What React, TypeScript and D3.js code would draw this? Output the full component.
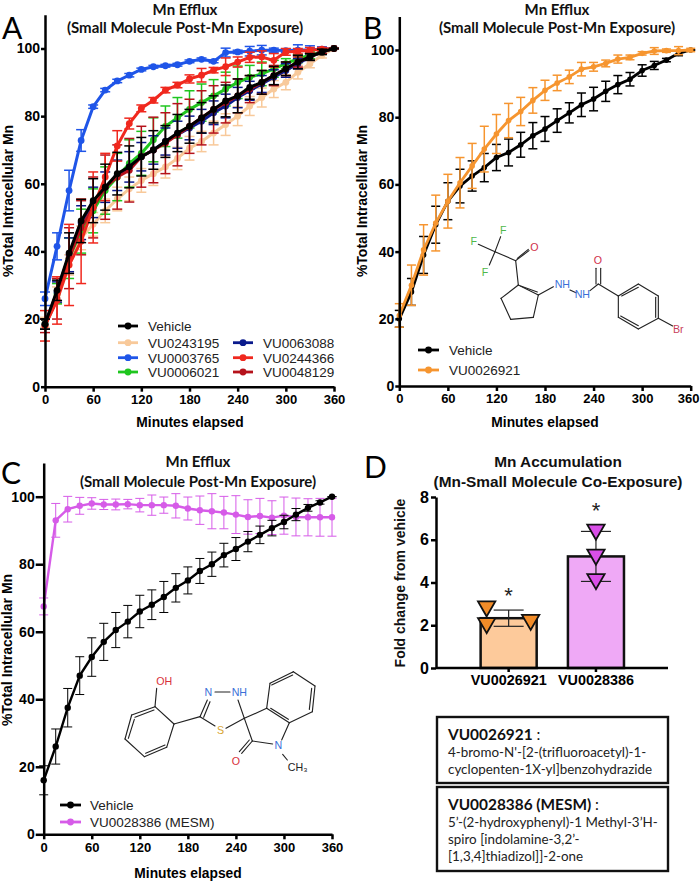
import React, { useEffect, useRef } from 'react';
import * as d3 from 'd3';

const minutes = [0, 15, 30, 45, 60, 75, 90, 105, 120, 135, 150, 165, 180, 195, 210, 225, 240, 255, 270, 285, 300, 315, 330, 345, 360];
const percentTicks = [0, 20, 40, 60, 80, 100];
const minuteTicks = [0, 60, 120, 180, 240, 300, 360];

// panel A
const vehicleA = [18.5, 28.5, 39.5, 49, 55, 59, 63, 65, 68, 70, 72.5, 75, 77, 79.5, 82, 84.5, 86, 88.5, 90, 92, 94, 96, 97.5, 99, 100];
const vehicleAErr = [1.5, 3, 6, 6.4, 6.5, 6.8, 6.3, 6.2, 5.7, 5.7, 4.7, 5.5, 5, 4.5, 4, 4.7, 5, 3.5, 3.5, 2.7, 2, 2, 1, 0.8, 0];
const vu0243195 = [19, 27, 36, 44, 48, 52, 55.5, 58.5, 61, 63, 65, 67.5, 70.5, 72.5, 75, 77.5, 80, 83, 85.5, 88, 90, 93, 95.5, 98, 100];
const vu0243195Err = [1.5, 2.5, 3, 3.5, 3.5, 3.5, 3.5, 3.5, 3.5, 3.5, 3.3, 3.3, 3.5, 3, 3.5, 3.2, 2.8, 2.8, 2.8, 2.5, 2.2, 2, 1.2, 0.8, 0];
const vu0003765 = [26, 41.5, 58, 72.8, 82.8, 87.7, 90.4, 92.1, 93.8, 94.6, 94.9, 95.2, 96.2, 96.8, 96.2, 98.8, 99, 99.2, 99.5, 99.5, 99.4, 99.5, 99.6, 99.8, 100];
const vu0003765Err = [2, 4, 6, 3.2, 0.5, 0.5, 0.5, 0.5, 0.4, 0.4, 0.4, 0.4, 0.4, 0.4, 0.4, 1.3, 0.5, 1.4, 1.4, 0.6, 0.5, 1.6, 1.2, 0.7, 0];
const vu0006021 = [18.5, 27.5, 38, 46, 52, 58, 62, 66, 69, 73, 77, 79.5, 82, 84, 86, 88, 90, 91.5, 92.5, 94, 95.5, 97, 98, 99, 100];
const vu0006021Err = [1.5, 3, 6, 6.5, 6.5, 7, 7, 7, 6.5, 6.5, 6, 6, 5.5, 5.5, 4.8, 5, 4.8, 3.5, 3.5, 2.5, 1.5, 1.2, 1, 0.6, 0];
const vu0063088 = [18.5, 28, 39, 48.5, 54.5, 59, 62.5, 65, 68, 70, 72.5, 74.5, 76.5, 78.5, 81, 83, 85.5, 87.5, 89.5, 91.5, 93.5, 95.5, 97.5, 99, 100];
const vu0063088Err = [1.5, 3, 5, 5, 4.5, 4.5, 4.5, 4.5, 4.2, 4.2, 4, 4, 3.5, 3.5, 3.5, 3.5, 3, 2.8, 2.5, 2.2, 2, 1.5, 1, 0.6, 0];
const vu0244366 = [18, 25.5, 36, 43, 53, 62, 71.2, 77.8, 82.3, 84.7, 87.7, 89.2, 91, 92.1, 93.6, 94.6, 96, 97.4, 97.5, 96.5, 99, 99.2, 99.5, 99.8, 100];
const vu0244366Err = [4.5, 7, 12, 12.5, 10.5, 7, 4.5, 1.6, 1, 0.8, 0.8, 0.8, 1.2, 2, 0.8, 2.6, 1.5, 1.5, 1.8, 2, 1, 0.8, 0.8, 0.5, 0];
const vu0048129 = [18, 26, 38, 47, 53, 59, 62, 64, 68, 70, 72, 74.5, 77, 79.5, 82, 84, 86, 88, 90, 92, 94, 96, 97.5, 99, 100];
const vu0048129Err = [2, 6, 9, 8, 9, 9.5, 9.5, 9.4, 9, 9.7, 9, 9.2, 8, 8, 7, 6, 5, 4, 3.5, 3, 2, 1.5, 1, 0.5, 0];

// panel B
const vehicleB = [20, 28, 39, 48, 55, 59.5, 62.5, 65, 68, 69.5, 71.8, 74.5, 76.5, 79, 81.3, 83.7, 85.4, 87.7, 89.7, 91.3, 93.9, 95.4, 97, 99, 100];
const vehicleBErr = [2.5, 4, 5.5, 5.5, 5.5, 5, 4.5, 4.2, 3.9, 4, 3.7, 3.9, 3.7, 3.5, 3, 3.5, 3.5, 3, 2.7, 2, 1.7, 1.2, 0.5, 0.7, 0];
const vu0026921 = [21, 30, 40.5, 48.5, 55, 60.5, 65.5, 70.5, 75, 79, 81.7, 85, 88, 90.2, 92, 94.3, 95, 96, 97.3, 97.8, 99, 99.7, 99.8, 99.8, 100];
const vu0026921Err = [3.5, 6, 7.5, 8.3, 8, 7.5, 6.7, 6.8, 5.8, 5.1, 4.2, 3.8, 3, 2.3, 2, 2, 1.3, 1, 1.2, 0.7, 0.5, 1, 0.5, 1.2, 0.5];

// panel C
const vehicleC = [16, 26, 37.5, 47, 52.5, 57, 60.5, 63, 66, 68, 70.3, 73, 75.2, 78, 80, 82.7, 84.5, 86.7, 88.7, 90.7, 92.5, 94.7, 96.7, 98.3, 100];
const vehicleCErr = [4.3, 5.2, 5.7, 5.6, 5.7, 5.5, 5.2, 4.8, 4.8, 4.4, 4.6, 4.2, 4, 3.7, 3.6, 3.5, 3.4, 3, 2.6, 2.3, 2, 1.8, 1, 0.5, 0];
const vu0028386 = [67.5, 93, 96.3, 97.3, 98, 97.7, 97.7, 97.8, 97.5, 97.5, 97.5, 97.3, 96.5, 96, 95.7, 95.3, 94.7, 94, 94.3, 93.8, 94.4, 94, 93.9, 93.9, 93.9];
const vu0028386Err = [2.5, 5, 3.8, 2.5, 1.7, 1.5, 1.6, 1.4, 2, 3, 2.4, 3.6, 3.4, 4.2, 5.2, 4.8, 5.6, 5.1, 5.2, 5, 5.5, 5.6, 5.5, 5.6, 5.6];

// panel D
const accumulationCompounds = ['VU0026921', 'VU0028386'];
const accumulationMeans = [2.33, 5.22];
const accumulationErr = [0.38, 1.17];
const accumulationPoints = [[2.88, 2.1, 2.25], [6.47, 5.3, 4.16]];
const accumulationOffsets = [[-22, -22, 22], [0, 0, 0]];

const BLACK = '#000000';
const PEACH = '#f8c99a';
const BLUE = '#1f55e8';
const GREEN = '#1fc61f';
const NAVY = '#0a1a8c';
const RED = '#f0281e';
const DARK_RED = '#b5121b';
const ORANGE = '#f6952f';
const MAGENTA = '#d65be8';

const ARIAL = '"Liberation Sans", Arial, sans-serif';
const CALIBRI = 'Lato, sans-serif';

type Series = { name: string; values: number[]; err: number[]; color: string };
type Panel = {
  left: number; right: number; top100: number; bottom: number;
  series: Series[];
  lineWidth: number; radius: number; errWidth: number; capHalf: number; tickLen: number;
};

const drawEfflux = (svg: any, p: Panel) => {
  const x = d3.scaleLinear().domain([0, 360]).range([p.left, p.right]);
  const unit = (p.bottom - p.top100) / 100;
  const y = d3.scaleLinear().domain([0, 110]).range([p.bottom, p.bottom - 110 * unit]);
  const line = d3.line<number>().x((_, i) => x(minutes[i])).y(d => y(d));

  p.series.forEach(s => {
    const g = svg.append('g');
    const bars = g.selectAll('g.err').data(s.values.map((v, i) => ({ t: minutes[i], v, e: s.err[i] })))
      .join('g').attr('stroke', s.color).attr('stroke-width', p.errWidth).attr('fill', 'none');
    bars.append('line').attr('x1', d => x(d.t)).attr('x2', d => x(d.t)).attr('y1', d => y(d.v - d.e)).attr('y2', d => y(d.v + d.e));
    bars.append('line').attr('x1', d => x(d.t) - p.capHalf).attr('x2', d => x(d.t) + p.capHalf).attr('y1', d => y(d.v + d.e)).attr('y2', d => y(d.v + d.e));
    bars.append('line').attr('x1', d => x(d.t) - p.capHalf).attr('x2', d => x(d.t) + p.capHalf).attr('y1', d => y(d.v - d.e)).attr('y2', d => y(d.v - d.e));
    g.append('path').attr('d', line(s.values)).attr('fill', 'none').attr('stroke', s.color).attr('stroke-width', p.lineWidth);
    g.selectAll('circle').data(s.values).join('circle')
      .attr('cx', (_, i) => x(minutes[i])).attr('cy', d => y(d)).attr('r', p.radius).attr('fill', s.color);
  });

  const yAxis = svg.append('g').attr('transform', `translate(${p.left},0)`)
    .call(d3.axisLeft(y).tickValues(percentTicks).tickSize(p.tickLen).tickSizeOuter(0).tickPadding(1));
  const xAxis = svg.append('g').attr('transform', `translate(0,${p.bottom})`)
    .call(d3.axisBottom(x).tickValues(minuteTicks).tickSize(5).tickSizeOuter(0).tickPadding(3));
  styleAxis(yAxis, 14);
  styleAxis(xAxis, 13);
  return xAxis;
};

const styleAxis = (axis: any, size: number) => {
  axis.selectAll('path').attr('stroke', '#000').attr('stroke-width', 2.5);
  axis.selectAll('line').attr('stroke', '#000').attr('stroke-width', 2.5);
  axis.selectAll('text').attr('fill', '#000').attr('font-family', ARIAL).attr('font-weight', 'bold').attr('font-size', size);
};

const addText = (svg: any, str: string, tx: number, ty: number, opts: any = {}) => {
  const t = svg.append('text').attr('x', tx).attr('y', ty)
    .attr('font-family', opts.family || ARIAL).attr('font-size', opts.size || 12)
    .attr('font-weight', opts.weight || 'normal').attr('fill', opts.fill || '#000')
    .attr('text-anchor', opts.anchor || 'start').text(str);
  if (opts.rotate) t.attr('transform', `rotate(${opts.rotate} ${tx} ${ty})`);
  return t;
};

const legendRow = (svg: any, s: { name: string; color: string }, x1: number, x2: number, ty: number, tx: number, size: number) => {
  svg.append('line').attr('x1', x1).attr('x2', x2).attr('y1', ty).attr('y2', ty).attr('stroke', s.color).attr('stroke-width', 2.8);
  svg.append('circle').attr('cx', (x1 + x2) / 2).attr('cy', ty).attr('r', 3.4).attr('fill', s.color);
  addText(svg, s.name, tx, ty + size * 0.36, { size, fill: '#222' });
};

// molecule drawings: points are in the zoomed sketch units, scaled by 1/3 at draw time
type Bond = number[];
const cf3Bonds: Bond[] = [[385, 103, 435, 125], [452, 80, 435, 125], [418, 165, 435, 125], [435, 125, 497, 152], [497, 152, 505, 225], [505, 225, 565, 255], [565, 255, 550, 322], [550, 322, 482, 328], [482, 328, 453, 265], [453, 265, 505, 225], [565, 255, 610, 230], [660, 240, 678, 248], [720, 242, 745, 222], [745, 222, 805, 258], [805, 258, 865, 222], [865, 222, 925, 258], [925, 258, 925, 325], [925, 325, 865, 357], [865, 357, 805, 322], [805, 322, 805, 258], [925, 325, 968, 348], [497, 152, 537, 122]];
const cf3Inner: Bond[] = [[502, 145, 535, 118], [738, 222, 738, 175], [752, 222, 752, 175], [512, 228, 562, 246], [815, 258, 865, 232], [917, 262, 917, 322], [865, 347, 812, 318]];
const cf3Labels = [['F', 371, 95, '#4fb84a'], ['F', 460, 62, '#4fb84a'], ['F', 405, 186, '#4fb84a'], ['O', 553, 112, '#d0304a'], ['NH', 637, 222, '#3a6fd8'], ['NH', 697, 254, '#3a6fd8'], ['O', 744, 152, '#d0304a'], ['Br', 985, 358, '#c8405a']];

const mesmBonds: Bond[] = [[470, 85, 465, 140], [465, 140, 522, 192], [522, 192, 500, 262], [500, 262, 433, 290], [433, 290, 375, 237], [375, 237, 395, 165], [395, 165, 465, 140], [522, 192, 600, 170], [600, 170, 622, 120], [645, 96, 690, 96], [714, 120, 733, 175], [733, 175, 678, 205], [645, 198, 600, 170], [733, 175, 800, 145], [800, 145, 810, 70], [810, 70, 880, 35], [880, 35, 945, 78], [945, 78, 937, 155], [937, 155, 868, 188], [868, 188, 800, 145], [868, 188, 845, 240], [818, 252, 757, 243], [733, 175, 757, 243], [848, 283, 862, 300], [757, 243, 725, 280]];
const mesmInner: Bond[] = [[611, 172, 630, 125], [405, 172, 462, 150], [385, 235, 403, 178], [437, 280, 495, 255], [815, 75, 878, 45], [935, 85, 928, 148], [748, 240, 718, 275], [812, 145, 865, 178]];
const mesmLabels = [['OH', 493, 63, '#d8303a'], ['N', 625, 96, '#3a6fd8'], ['NH', 718, 96, '#3a6fd8'], ['S', 662, 212, '#d8a530'], ['N', 835, 256, '#3a6fd8'], ['O', 708, 305, '#d8303a'], ['CH₃', 893, 322, '#222']];

const drawMolecule = (svg: any, ox: number, oy: number, bonds: Bond[], inner: Bond[], labels: any[]) => {
  const g = svg.append('g').attr('transform', `translate(${ox},${oy}) scale(${1 / 3})`);
  g.selectAll('line').data([...bonds, ...inner]).join('line')
    .attr('x1', d => d[0]).attr('y1', d => d[1]).attr('x2', d => d[2]).attr('y2', d => d[3])
    .attr('stroke', '#222').attr('stroke-width', 3.4).attr('stroke-linecap', 'round');
  g.selectAll('text').data(labels).join('text')
    .attr('x', d => d[1]).attr('y', d => d[2] + 11).attr('text-anchor', 'middle')
    .attr('font-family', ARIAL).attr('font-size', 32).attr('fill', d => d[3]).text(d => d[0]);
};

const App: React.FC = () => {
  const svgRef = useRef<SVGSVGElement | null>(null);

  useEffect(() => {
    const svg = d3.select(svgRef.current);
    svg.selectAll('*').remove();

    const seriesA: Series[] = [
      { name: 'VU0243195', values: vu0243195, err: vu0243195Err, color: PEACH },
      { name: 'VU0003765', values: vu0003765, err: vu0003765Err, color: BLUE },
      { name: 'VU0006021', values: vu0006021, err: vu0006021Err, color: GREEN },
      { name: 'VU0063088', values: vu0063088, err: vu0063088Err, color: NAVY },
      { name: 'VU0048129', values: vu0048129, err: vu0048129Err, color: DARK_RED },
      { name: 'VU0244366', values: vu0244366, err: vu0244366Err, color: RED },
      { name: 'Vehicle', values: vehicleA, err: vehicleAErr, color: BLACK },
    ];

    drawEfflux(svg, { left: 45, right: 334, top100: 48.5, bottom: 386.7, series: seriesA, lineWidth: 3, radius: 3.4, errWidth: 1.5, capHalf: 5, tickLen: 4 });
    const xAxisB = drawEfflux(svg, {
      left: 399.3, right: 690.7, top100: 50, bottom: 386,
      series: [
        { name: 'Vehicle', values: vehicleB, err: vehicleBErr, color: BLACK },
        { name: 'VU0026921', values: vu0026921, err: vu0026921Err, color: ORANGE },
      ],
      lineWidth: 2.8, radius: 2.8, errWidth: 1.5, capHalf: 4.5, tickLen: 4,
    });
    // last label would run off the page edge
    xAxisB.selectAll('.tick').filter((d: any) => d === 360).select('text').attr('dx', -2.5);
    drawEfflux(svg, {
      left: 43.7, right: 332, top100: 496.7, bottom: 834.3,
      series: [
        { name: 'VU0028386 (MESM)', values: vu0028386, err: vu0028386Err, color: MAGENTA },
        { name: 'Vehicle', values: vehicleC, err: vehicleCErr, color: BLACK },
      ],
      lineWidth: 2.4, radius: 3.2, errWidth: 1, capHalf: 4.5, tickLen: 8,
    });

    // titles and axis titles
    const titleOpts = { family: CALIBRI, weight: 700, size: 15, anchor: 'middle', fill: '#111' };
    [[185, 14.5, 32.5], [557, 14.5, 32.5], [198, 467, 487]].forEach(([cx, y1, y2]) => {
      addText(svg, 'Mn Efflux', cx, y1, titleOpts);
      addText(svg, '(Small Molecule Post-Mn Exposure)', cx, y2, titleOpts);
    });
    const yTitle = { weight: 'bold', size: 14, anchor: 'middle', rotate: -90 };
    addText(svg, '%Total Intracellular Mn', 13, 201, yTitle);
    addText(svg, '%Total Intracellular Mn', 367, 201, yTitle);
    addText(svg, '%Total Intracellular Mn', 12, 650, yTitle);
    const xTitle = { weight: 'bold', size: 13.8, anchor: 'middle' };
    addText(svg, 'Minutes elapsed', 190, 427, xTitle);
    addText(svg, 'Minutes elapsed', 545, 427, xTitle);
    addText(svg, 'Minutes elapsed', 188, 878, xTitle);

    // panel letters
    const letter = { family: CALIBRI, size: 30 };
    addText(svg, 'A', 2, 39, letter);
    addText(svg, 'B', 363, 39, letter);
    addText(svg, 'C', 1, 484, letter);
    addText(svg, 'D', 364, 478, letter);

    // legends
    legendRow(svg, { name: 'Vehicle', color: BLACK }, 118, 138, 326, 148, 13.5);
    legendRow(svg, { name: 'VU0243195', color: PEACH }, 118, 138, 342.7, 148, 13.5);
    legendRow(svg, { name: 'VU0003765', color: BLUE }, 118, 138, 357.7, 148, 13.5);
    legendRow(svg, { name: 'VU0006021', color: GREEN }, 118, 138, 372, 148, 13.5);
    legendRow(svg, { name: 'VU0063088', color: NAVY }, 233, 253, 342.7, 263, 13.5);
    legendRow(svg, { name: 'VU0244366', color: RED }, 233, 253, 357.7, 263, 13.5);
    legendRow(svg, { name: 'VU0048129', color: DARK_RED }, 233, 253, 372, 263, 13.5);
    legendRow(svg, { name: 'Vehicle', color: BLACK }, 418, 439, 350, 449, 13.5);
    legendRow(svg, { name: 'VU0026921', color: ORANGE }, 418, 439, 370, 449, 13.5);
    legendRow(svg, { name: 'Vehicle', color: BLACK }, 60, 81, 805, 90, 13.5);
    legendRow(svg, { name: 'VU0028386 (MESM)', color: MAGENTA }, 60, 81, 822, 90, 13.5);

    // structures
    drawMolecule(svg, 350, 210, cf3Bonds, cf3Inner, cf3Labels);
    drawMolecule(svg, 0, 660, mesmBonds, mesmInner, mesmLabels);

    // panel D
    const xBand = d3.scaleBand<string>().domain(accumulationCompounds).range([465, 639.6]).paddingInner(0.358).paddingOuter(0.179);
    const yFold = d3.scaleLinear().domain([0, 8]).range([668, 497]);
    const barFills = ['#fdca9b', '#efa9f6'];
    const triFills = ['#f28c28', '#d94fe8'];
    const triangle = d3.symbol().type(d3.symbolTriangle).size(130);

    svg.append('g').selectAll('rect').data(accumulationCompounds).join('rect')
      .attr('x', d => xBand(d) || 0).attr('y', (_, i) => yFold(accumulationMeans[i]))
      .attr('width', xBand.bandwidth()).attr('height', (_, i) => 668 - yFold(accumulationMeans[i]))
      .attr('fill', (_, i) => barFills[i]).attr('stroke', '#111').attr('stroke-width', 2.5);

    accumulationCompounds.forEach((c, i) => {
      const cx = (xBand(c) || 0) + xBand.bandwidth() / 2;
      const hi = yFold(accumulationMeans[i] + accumulationErr[i]);
      const lo = yFold(accumulationMeans[i] - accumulationErr[i]);
      const eg = svg.append('g').attr('stroke', '#222').attr('stroke-width', 1.2);
      eg.append('line').attr('x1', cx).attr('x2', cx).attr('y1', hi).attr('y2', lo);
      eg.append('line').attr('x1', cx - 15).attr('x2', cx + 15).attr('y1', hi).attr('y2', hi);
      eg.append('line').attr('x1', cx - 15).attr('x2', cx + 15).attr('y1', lo).attr('y2', lo);
      svg.append('g').selectAll('path').data(accumulationPoints[i]).join('path')
        .attr('d', triangle as any)
        .attr('transform', (d, j) => `translate(${cx + accumulationOffsets[i][j]},${yFold(d)}) rotate(180)`)
        .attr('fill', triFills[i]).attr('stroke', '#111').attr('stroke-width', 1.8);
      addText(svg, '*', cx, i === 0 ? 603 : 518, { size: 22, anchor: 'middle', fill: '#222' });
    });

    const yFoldAxis = svg.append('g').attr('transform', 'translate(436,0)')
      .call(d3.axisLeft(yFold).tickValues([0, 2, 4, 6, 8]).tickSize(5).tickSizeOuter(0).tickPadding(2));
    styleAxis(yFoldAxis, 16);
    svg.append('line').attr('x1', 436).attr('x2', 668).attr('y1', 668).attr('y2', 668).attr('stroke', '#000').attr('stroke-width', 2.5);
    const xFoldAxis = svg.append('g').attr('transform', 'translate(0,668)')
      .call(d3.axisBottom(xBand).tickSize(4).tickSizeOuter(0).tickPadding(3));
    styleAxis(xFoldAxis, 14.4);
    xFoldAxis.select('path').remove();

    const titleD = { weight: 'bold', size: 15.4, anchor: 'middle', fill: '#111' };
    addText(svg, 'Mn Accumulation', 558, 467, titleD);
    addText(svg, '(Mn-Small Molecule Co-Exposure)', 558, 487, titleD);
    addText(svg, 'Fold change from vehicle', 405, 583, { weight: 'bold', size: 14, anchor: 'middle', rotate: -90, fill: '#111' });

    // name boxes
    [[717, 66], [787, 84]].forEach(([by, bh]) => {
      svg.append('rect').attr('x', 437).attr('y', by).attr('width', 231).attr('height', bh)
        .attr('fill', '#fff').attr('stroke', '#111').attr('stroke-width', 2.4);
    });
    const boxName = { family: CALIBRI, size: 15.4, weight: 700, fill: '#111' };
    const boxText = { family: CALIBRI, size: 13.4, fill: '#222' };
    addText(svg, 'VU0026921', 448, 740, boxName).append('tspan').attr('font-weight', 400).text(' :');
    addText(svg, "4-bromo-N'-[2-(trifluoroacetyl)-1-", 448, 757, boxText);
    addText(svg, 'cyclopenten-1X-yl]benzohydrazide', 448, 774, boxText);
    addText(svg, 'VU0028386 (MESM)', 448, 810, boxName).append('tspan').attr('font-weight', 400).text(' :');
    addText(svg, '5’-(2-hydroxyphenyl)-1 Methyl-3’H-', 448, 827, boxText);
    addText(svg, 'spiro [indolamine-3,2’-', 448, 844, boxText);
    addText(svg, '[1,3,4]thiadizol]]-2-one', 448, 861, boxText);
  }, []);

  return (
    <svg ref={svgRef} width={700} height={881} style={{ position: 'absolute', left: 0, top: 0, background: '#fff' }}></svg>
  );
};

export default App;
